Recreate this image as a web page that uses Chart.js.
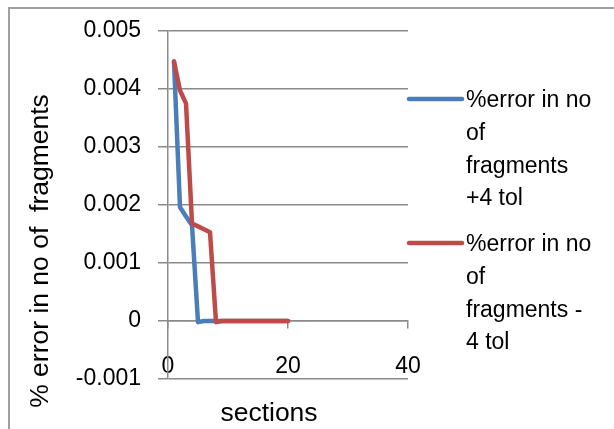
<!DOCTYPE html>
<html>
<head>
<meta charset="utf-8">
<script src="https://cdn.jsdelivr.net/npm/chart.js@4/dist/chart.umd.min.js"></script>
<style>
  html, body { margin: 0; padding: 0; background: #ffffff; }
  canvas { display: block; }
</style>
</head>
<body>
<canvas id="c" width="614" height="429"></canvas>
<script>
// ---- data ----
const sections = [1, 2, 3, 4, 5, 6, 7, 8, 9, 10, 11, 12, 13, 14, 15, 16, 17, 18, 19, 20];
const plusTol  = [0.00447, 0.00196, 0.00180, 0.00165, -0.00002, 0, 0, 0, 0, 0, 0, 0, 0, 0, 0, 0, 0, 0, 0, 0];
const minusTol = [0.00447, 0.00397, 0.00375, 0.00168, 0.00163, 0.00158, 0.00153, -0.00002, 0, 0, 0, 0, 0, 0, 0, 0, 0, 0, 0, 0];
const seriesNames = ['%error in no of fragments +4 tol', '%error in no of fragments -4 tol'];
const legendLines = [['%error in no', 'of', 'fragments', '+4 tol'], ['%error in no', 'of', 'fragments -', '4 tol']];
const xTickValues = [0, 20, 40];
const yTickValues = [-0.001, 0, 0.001, 0.002, 0.003, 0.004, 0.005];
const xTitle = 'sections';
const yTitle = '% error in no of  fragments';

const FONT = "'Liberation Sans', Arial, sans-serif";
const GRID = '#8a8a8a';
const colors = ['#4A7EBB', '#BE4B48'];

const decor = {
  id: 'decor',
  beforeDraw(chart) {
    const ctx = chart.ctx;
    ctx.save();
    ctx.fillStyle = '#ffffff';
    ctx.fillRect(0, 0, chart.width, chart.height);
    ctx.strokeStyle = '#a0a0a0';
    ctx.lineWidth = 2;
    ctx.strokeRect(9, 8, chart.width + 20, chart.height + 20);
    ctx.restore();
  },
  afterDraw(chart) {
    const ctx = chart.ctx;
    const a = chart.chartArea;
    ctx.save();
    ctx.fillStyle = '#000000';
    // axis titles
    ctx.font = '26.5px ' + FONT;
    ctx.textAlign = 'center';
    ctx.textBaseline = 'alphabetic';
    ctx.fillText(xTitle, a.left + 101, 421);
    ctx.translate(48, 251);
    ctx.rotate(-Math.PI / 2);
    ctx.fillText(yTitle, 0, 0);
    ctx.restore();

    // legend
    ctx.save();
    ctx.font = '23px ' + FONT;
    ctx.textAlign = 'left';
    ctx.textBaseline = 'middle';
    const tops = [99, 243];
    chart.data.datasets.forEach((ds, i) => {
      const y0 = tops[i];
      ctx.strokeStyle = ds.borderColor;
      ctx.lineWidth = 4.5;
      ctx.lineCap = 'round';
      ctx.beginPath();
      ctx.moveTo(a.right + 1, y0);
      ctx.lineTo(a.right + 54, y0);
      ctx.stroke();
      ctx.fillStyle = '#000000';
      legendLines[i].forEach((t, k) => ctx.fillText(t, a.right + 58, y0 + 2 + k * 32.7));
    });
    ctx.restore();
  }
};

new Chart(document.getElementById('c'), {
  type: 'line',
  data: {
    datasets: [
      {
        label: seriesNames[0],
        data: sections.map((s, i) => ({ x: s, y: plusTol[i] })),
        borderColor: colors[0],
        backgroundColor: colors[0],
        borderWidth: 4.5,
        pointRadius: 0,
        tension: 0,
        order: 1,
        borderJoinStyle: 'round',
        borderCapStyle: 'round'
      },
      {
        label: seriesNames[1],
        data: sections.map((s, i) => ({ x: s, y: minusTol[i] })),
        borderColor: colors[1],
        backgroundColor: colors[1],
        borderWidth: 4.5,
        pointRadius: 0,
        tension: 0,
        order: 0,
        borderJoinStyle: 'round',
        borderCapStyle: 'round'
      }
    ]
  },
  options: {
    responsive: false,
    animation: false,
    devicePixelRatio: 1,
    layout: { padding: { left: 0, right: 206, top: 30, bottom: 50 } },
    plugins: {
      legend: { display: false },
      tooltip: { enabled: false },
      title: { display: false }
    },
    scales: {
      x: {
        type: 'linear',
        position: { y: 0 },
        min: 0,
        max: 40,
        afterBuildTicks: s => { s.ticks = xTickValues.map(v => ({ value: v })); },
        ticks: {
          font: { family: FONT, size: 23 },
          color: '#000000',
          padding: 25,
          maxRotation: 0,
          callback: v => String(v)
        },
        grid: { drawOnChartArea: false, drawTicks: true, tickLength: 7, color: GRID, lineWidth: 1.5 },
        border: { display: true, color: GRID, width: 1.5 }
      },
      y: {
        type: 'linear',
        min: -0.001,
        max: 0.005,
        afterFit: s => { s.width = 168; },
        afterBuildTicks: s => { s.ticks = yTickValues.map(v => ({ value: v })); },
        ticks: {
          font: { family: FONT, size: 23 },
          color: '#000000',
          padding: 17,
          callback: v => String(Math.round(v * 1000) / 1000)
        },
        grid: { color: GRID, lineWidth: 1.5, tickLength: 10 },
        border: { display: true, color: GRID, width: 1.5 }
      }
    }
  },
  plugins: [decor]
});
</script>
</body>
</html>
